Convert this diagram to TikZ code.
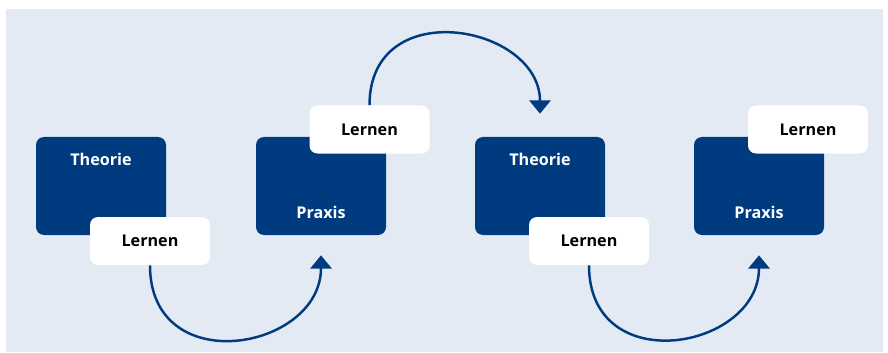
\documentclass[tikz,border=0pt]{standalone}
\usepackage{fontspec}
\setmainfont{Open Sans}
\usepackage{tikz}
\usetikzlibrary{arrows.meta,shapes,positioning}
\usepackage{xcolor}
\definecolor{lkblue}{RGB}{0,59,128}
\definecolor{lkback}{RGB}{227,234,244}
\tikzstyle{arrow} = [line width=1.4pt,-{Triangle[width=12pt,length=7.5pt]},color=lkblue]

\begin{document}
\begin{tikzpicture}[
    phase/.style={rectangle, rounded corners=0.16cm, fill=lkblue, minimum width=2.6cm, minimum height=1.96cm, inner sep=0pt},
    phasetxt/.style={text=white, font=\bfseries\fontsize{9.2}{10}\selectfont, inner sep=0pt},
    learn/.style={rectangle, rounded corners=0.16cm, fill=white, minimum width=2.4cm, minimum height=0.96cm, font=\bfseries\fontsize{9.2}{10}\selectfont}]

\useasboundingbox (0,0) rectangle (17.76,7.04);
% Background
\fill[lkback] (0.12,0) rectangle (17.66,6.86);

% Theory / practice boxes
\node[phase] (theory1) at (2.02,3.32) {};
\node[phase] (praxis1) at (6.42,3.32) {};
\node[phase] (theory2) at (10.80,3.32) {};
\node[phase] (praxis2) at (15.18,3.32) {};

\node[phasetxt] (theory1txt) at ([yshift=-0.46cm]theory1.north) {Theorie};
\node[phasetxt] (praxis1txt) at ([yshift=0.46cm]praxis1.south) {Praxis};
\node[phasetxt] (theory2txt) at ([yshift=-0.46cm]theory2.north) {Theorie};
\node[phasetxt] (praxis2txt) at ([yshift=0.46cm]praxis2.south) {Praxis};

% Learning steps
\node[learn] (learn1) at (3.00,2.22) {Lernen};
\node[learn] (learn2) at (7.39,4.45) {Lernen};
\node[learn] (learn3) at (11.78,2.22) {Lernen};
\node[learn] (learn4) at (16.16,4.45) {Lernen};

% Loops
\draw[arrow, shorten >=0.4cm] (learn1.south) to[out=-90, in=-90, looseness=1.7] (praxis1.south);
\draw[arrow, shorten >=0.46cm] (learn2.north) to[out=90, in=90, looseness=1.65] (theory2.north);
\draw[arrow, shorten >=0.4cm] (learn3.south) to[out=-90, in=-90, looseness=1.7] (praxis2.south);

\end{tikzpicture}
\end{document}
